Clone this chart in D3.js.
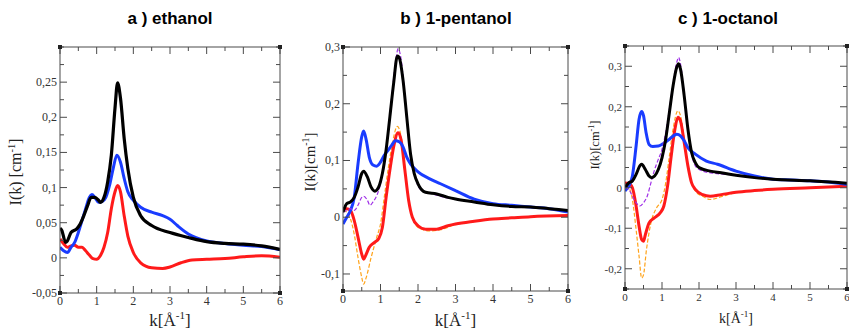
<!DOCTYPE html>
<html lang="en">
<head>
<meta charset="UTF-8" />
<script src="https://cdn.jsdelivr.net/npm/d3@7"></script>
<style>
  body { margin: 0; background: #fff; }
  svg { display: block; }
</style>
</head>
<body>
<script>
// ---- data: [k, I(k)] ----
var ethanolTotal = [[0,0.042],[0.05,0.039],[0.15,0.022],[0.2,0.024],[0.3,0.036],[0.45,0.041],[0.55,0.048],[0.65,0.06],[0.75,0.074],[0.85,0.086],[0.95,0.086],[1.05,0.082],[1.1,0.079],[1.2,0.086],[1.3,0.108],[1.4,0.146],[1.5,0.213],[1.57,0.249],[1.65,0.227],[1.75,0.17],[1.85,0.127],[2.0,0.086],[2.2,0.06],[2.5,0.046],[3.0,0.036],[3.5,0.029],[4.0,0.023],[4.5,0.0205],[5.0,0.0195],[5.5,0.017],[6.0,0.012]];
var ethanolBlue = [[0,0.015],[0.1,0.01],[0.2,0.0076],[0.3,0.015],[0.4,0.022],[0.5,0.036],[0.6,0.053],[0.7,0.07],[0.8,0.086],[0.87,0.09],[0.95,0.086],[1.05,0.079],[1.15,0.08],[1.25,0.086],[1.35,0.103],[1.45,0.127],[1.55,0.146],[1.65,0.136],[1.75,0.113],[1.85,0.094],[2.0,0.082],[2.2,0.072],[2.5,0.065],[2.8,0.06],[3.0,0.055],[3.2,0.046],[3.5,0.034],[4.0,0.024],[4.5,0.0205],[5.0,0.018],[5.5,0.016],[6.0,0.0115]];
var ethanolRed = [[0,0.027],[0.1,0.02],[0.2,0.015],[0.3,0.017],[0.4,0.018],[0.5,0.015],[0.6,0.015],[0.7,0.01],[0.8,0.004],[0.9,-0.001],[1.0,-0.002],[1.1,0.003],[1.2,0.015],[1.3,0.036],[1.4,0.07],[1.5,0.094],[1.57,0.103],[1.65,0.094],[1.75,0.06],[1.85,0.031],[2.0,0.0076],[2.2,-0.007],[2.5,-0.014],[2.8,-0.015],[3.0,-0.013],[3.3,-0.007],[3.6,-0.003],[4.0,-0.002],[4.5,-0.001],[5.0,0.0015],[5.5,0.003],[6.0,0.001]];

var pentanolTotal = [[0,0.009],[0.1,0.024],[0.2,0.027],[0.3,0.035],[0.4,0.053],[0.5,0.077],[0.55,0.081],[0.65,0.071],[0.75,0.053],[0.85,0.046],[0.95,0.053],[1.05,0.077],[1.15,0.119],[1.25,0.177],[1.35,0.236],[1.45,0.284],[1.5,0.281],[1.6,0.242],[1.7,0.177],[1.8,0.112],[1.9,0.077],[2.0,0.059],[2.2,0.044],[2.5,0.041],[2.8,0.035],[3.0,0.032],[3.5,0.027],[4.0,0.022],[4.5,0.019],[5.0,0.018],[5.5,0.015],[6.0,0.012]];
var pentanolPurple = [[0,0.009],[0.1,0.012],[0.2,0.015],[0.3,0.012],[0.4,0.021],[0.5,0.035],[0.55,0.037],[0.65,0.03],[0.72,0.021],[0.8,0.027],[0.9,0.038],[1.0,0.059],[1.1,0.095],[1.2,0.148],[1.3,0.213],[1.4,0.272],[1.47,0.297],[1.55,0.278],[1.65,0.213],[1.75,0.142],[1.85,0.095],[1.95,0.065],[2.1,0.047],[2.4,0.041],[2.7,0.035],[3.0,0.032],[3.5,0.027],[4.0,0.022],[4.5,0.019],[5.0,0.018],[5.5,0.015],[6.0,0.012]];
var pentanolBlue = [[0,-0.012],[0.1,0],[0.2,0.012],[0.3,0.035],[0.4,0.094],[0.5,0.142],[0.55,0.152],[0.62,0.136],[0.7,0.106],[0.8,0.092],[0.9,0.09],[1.0,0.097],[1.1,0.109],[1.2,0.118],[1.3,0.127],[1.4,0.135],[1.5,0.133],[1.6,0.124],[1.7,0.106],[1.8,0.094],[2.0,0.08],[2.3,0.068],[2.6,0.059],[3.0,0.047],[3.5,0.032],[4.0,0.024],[4.5,0.021],[5.0,0.018],[5.5,0.015],[6.0,0.009]];
var pentanolRed = [[0,0.015],[0.1,0.015],[0.2,0.012],[0.3,-0.006],[0.4,-0.035],[0.5,-0.065],[0.55,-0.074],[0.6,-0.068],[0.7,-0.053],[0.85,-0.044],[0.95,-0.038],[1.05,-0.018],[1.15,0.035],[1.25,0.083],[1.35,0.124],[1.47,0.149],[1.55,0.136],[1.65,0.083],[1.75,0.03],[1.85,0],[2.0,-0.015],[2.2,-0.021],[2.5,-0.021],[2.8,-0.015],[3.0,-0.012],[3.5,-0.007],[4.0,-0.003],[4.5,-0.001],[5.0,0.001],[6.0,0.003]];
var pentanolOrange = [[0,0.012],[0.1,0.009],[0.2,-0.003],[0.3,-0.03],[0.4,-0.071],[0.5,-0.106],[0.55,-0.118],[0.62,-0.106],[0.75,-0.071],[0.9,-0.035],[1.0,-0.012],[1.1,0.035],[1.2,0.083],[1.3,0.124],[1.45,0.16],[1.55,0.142],[1.65,0.083],[1.75,0.03],[1.85,0],[2.0,-0.018],[2.3,-0.024],[2.6,-0.022],[3.0,-0.013],[3.5,-0.007],[4.0,-0.003],[4.5,-0.001],[5.0,0.001],[6.0,0.003]];

var octanolTotal = [[0,0],[0.1,0.012],[0.2,0.017],[0.3,0.033],[0.4,0.054],[0.45,0.058],[0.55,0.045],[0.65,0.029],[0.72,0.025],[0.8,0.029],[0.9,0.045],[1.0,0.074],[1.1,0.12],[1.2,0.186],[1.3,0.252],[1.4,0.298],[1.45,0.306],[1.5,0.293],[1.6,0.227],[1.7,0.145],[1.8,0.087],[1.9,0.062],[2.0,0.05],[2.3,0.041],[2.6,0.037],[3.0,0.031],[3.5,0.025],[4.0,0.021],[5.0,0.017],[6.0,0.011]];
var octanolPurple = [[0,0],[0.1,-0.004],[0.2,-0.021],[0.3,-0.037],[0.4,-0.045],[0.5,-0.037],[0.6,-0.021],[0.7,0.012],[0.8,0.045],[0.9,0.07],[1.0,0.095],[1.1,0.136],[1.2,0.194],[1.3,0.26],[1.4,0.31],[1.45,0.322],[1.5,0.306],[1.6,0.231],[1.7,0.145],[1.8,0.083],[1.9,0.054],[2.1,0.041],[2.4,0.036],[3.0,0.031],[3.5,0.025],[4.0,0.021],[5.0,0.017],[6.0,0.011]];
var octanolBlue = [[0,-0.008],[0.1,0.004],[0.2,0.029],[0.3,0.103],[0.38,0.169],[0.45,0.188],[0.5,0.178],[0.57,0.136],[0.65,0.107],[0.75,0.102],[0.9,0.103],[1.0,0.107],[1.2,0.12],[1.4,0.132],[1.5,0.128],[1.6,0.116],[1.7,0.099],[1.9,0.083],[2.2,0.066],[2.5,0.058],[3.0,0.041],[3.5,0.029],[4.0,0.021],[4.5,0.019],[5.0,0.017],[5.5,0.014],[6.0,0.008]];
var octanolRed = [[0,0.012],[0.1,0.011],[0.2,0],[0.3,-0.045],[0.38,-0.095],[0.45,-0.128],[0.5,-0.132],[0.55,-0.116],[0.65,-0.087],[0.8,-0.074],[0.95,-0.062],[1.05,-0.045],[1.15,0.004],[1.25,0.079],[1.35,0.145],[1.43,0.174],[1.5,0.165],[1.6,0.112],[1.7,0.054],[1.8,0.012],[1.9,-0.004],[2.1,-0.017],[2.3,-0.021],[2.6,-0.017],[3.0,-0.011],[3.5,-0.007],[4.0,-0.004],[5.0,0],[6.0,0.004]];
var octanolOrange = [[0,0.004],[0.1,0],[0.2,-0.029],[0.3,-0.103],[0.38,-0.169],[0.45,-0.223],[0.5,-0.215],[0.58,-0.153],[0.7,-0.087],[0.85,-0.05],[1.0,-0.029],[1.1,0.012],[1.2,0.079],[1.3,0.145],[1.43,0.19],[1.5,0.178],[1.6,0.12],[1.7,0.054],[1.8,0.012],[1.9,-0.008],[2.1,-0.021],[2.3,-0.029],[2.6,-0.022],[3.0,-0.012],[3.5,-0.007],[4.0,-0.004],[5.0,0],[6.0,0.004]];

var kTicks = [0, 1, 2, 3, 4, 5, 6];
var ticksA = [-0.05, 0, 0.05, 0.1, 0.15, 0.2, 0.25];
var ticksB = [-0.1, 0, 0.1, 0.2, 0.3];
var ticksC = [-0.2, -0.1, 0, 0.1, 0.2, 0.3];

var titles = ["a ) ethanol", "b ) 1-pentanol", "c ) 1-octanol"];

var w = 849, h = 332;
var svg = d3.select("body").append("svg").attr("width", w).attr("height", h);

var fmt = d3.formatLocale({decimal: ",", thousands: ".", grouping: [3], currency: ["", ""], minus: "-"}).format("~g");

var BLACK = "#000", BLUE = "#1a3cff", RED = "#ff1a1a", ORANGE = "#ffa31a", PURPLE = "#a030e8";

var panels = [
  {title: titles[0], left: 60, right: 280, top: 47, bottom: 293, yDomain: [-0.05, 0.3], yTicks: ticksA, minorStep: 0.025,
   ylab: {x: 21, y: 172, size: 16, text: "I(k) [cm"}, xlab: {y: 326, size: 17}, titleX: 170, tickSize: 12,
   series: [[ethanolRed, RED, 3, null], [ethanolBlue, BLUE, 3, null], [ethanolTotal, BLACK, 3.2, null]]},
  {title: titles[1], left: 343, right: 568, top: 47, bottom: 291, yDomain: [-0.13, 0.3], yTicks: ticksB, minorStep: 0.05,
   ylab: {x: 315, y: 162, size: 15, text: "I(k)[cm"}, xlab: {y: 326, size: 17}, titleX: 456, tickSize: 12,
   series: [[pentanolOrange, ORANGE, 1.2, "4,2"], [pentanolRed, RED, 3, null], [pentanolBlue, BLUE, 3, null],
            [pentanolPurple, PURPLE, 1.2, "4,2"], [pentanolTotal, BLACK, 3, null]]},
  {title: titles[2], left: 625, right: 847, top: 46, bottom: 289, yDomain: [-0.25, 0.35], yTicks: ticksC, minorStep: 0.05,
   ylab: {x: 599, y: 145, size: 12.5, text: "I(k)[cm"}, xlab: {y: 323, size: 14}, titleX: 728, tickSize: 11,
   series: [[octanolOrange, ORANGE, 1.2, "4,2"], [octanolRed, RED, 3, null], [octanolBlue, BLUE, 3, null],
            [octanolPurple, PURPLE, 1.2, "4,2"], [octanolTotal, BLACK, 3, null]]}
];

panels.forEach(function (p) {
  var x = d3.scaleLinear().domain([0, 6]).range([p.left, p.right]);
  var y = d3.scaleLinear().domain(p.yDomain).range([p.bottom, p.top]);
  var g = svg.append("g");

  // title
  svg.append("text")
    .attr("x", p.titleX).attr("y", 24)
    .attr("text-anchor", "middle")
    .attr("font-family", "Liberation Sans, Arial, sans-serif")
    .attr("font-weight", "bold").attr("font-size", "17px")
    .text(p.title);

  // clip for curves
  var clipId = "clip" + p.left;
  svg.append("clipPath").attr("id", clipId).append("rect")
    .attr("x", p.left).attr("y", p.top).attr("width", p.right - p.left).attr("height", p.bottom - p.top);

  var line = d3.line()
    .x(function (d) { return x(d[0]); })
    .y(function (d) { return y(d[1]); })
    .curve(d3.curveMonotoneX);

  g.append("g").attr("clip-path", "url(#" + clipId + ")")
    .selectAll("path")
    .data(p.series)
    .enter()
    .append("path")
    .attr("d", function (s) { return line(s[0]); })
    .attr("fill", "none")
    .attr("stroke", function (s) { return s[1]; })
    .attr("stroke-width", function (s) { return s[2]; })
    .attr("stroke-dasharray", function (s) { return s[3]; })
    .attr("stroke-linejoin", "round");

  // frame
  var axisColor = "#4a4a4a";
  g.append("rect")
    .attr("x", p.left).attr("y", p.top)
    .attr("width", p.right - p.left).attr("height", p.bottom - p.top)
    .attr("fill", "none").attr("stroke", axisColor).attr("stroke-width", 1);

  // ticks, inward on all four sides
  var xMinor = d3.range(0, 6.001, 0.5);
  var yMinor = d3.range(Math.ceil(p.yDomain[0] / p.minorStep - 1e-6) * p.minorStep, p.yDomain[1] + 1e-6, p.minorStep);
  var tk = g.append("g").attr("stroke", axisColor).attr("stroke-width", 1);
  xMinor.forEach(function (v) {
    var major = Math.abs(v - Math.round(v)) < 1e-6;
    var len = major ? 7 : 4;
    tk.append("line").attr("x1", x(v)).attr("x2", x(v)).attr("y1", p.bottom).attr("y2", p.bottom - len);
    tk.append("line").attr("x1", x(v)).attr("x2", x(v)).attr("y1", p.top).attr("y2", p.top + len);
  });
  yMinor.forEach(function (v) {
    var major = p.yTicks.some(function (t) { return Math.abs(t - v) < 1e-6; });
    var len = major ? 7 : 4;
    tk.append("line").attr("y1", y(v)).attr("y2", y(v)).attr("x1", p.left).attr("x2", p.left + len);
    tk.append("line").attr("y1", y(v)).attr("y2", y(v)).attr("x1", p.right).attr("x2", p.right - len);
  });

  // corner squares
  [[p.left, p.top], [p.right, p.top], [p.left, p.bottom], [p.right, p.bottom]].forEach(function (c) {
    g.append("rect").attr("x", c[0] - 2).attr("y", c[1] - 2).attr("width", 4).attr("height", 4)
      .attr("fill", "#222");
  });

  // tick labels
  var serif = "Liberation Serif, Times New Roman, serif";
  g.selectAll(".xl").data(kTicks).enter().append("text")
    .attr("x", function (d) { return x(d); })
    .attr("y", p.bottom + 12)
    .attr("text-anchor", "middle")
    .attr("font-family", serif).attr("font-size", p.tickSize + "px").attr("fill", "#333")
    .text(function (d) { return d; });
  g.selectAll(".yl").data(p.yTicks).enter().append("text")
    .attr("x", p.left - 3)
    .attr("y", function (d) { return y(d) + 4; })
    .attr("text-anchor", "end")
    .attr("font-family", serif).attr("font-size", p.tickSize + "px").attr("fill", "#333")
    .text(function (d) { return fmt(d); });

  // axis titles
  var yl = svg.append("text")
    .attr("transform", "translate(" + p.ylab.x + "," + p.ylab.y + ") rotate(-90)")
    .attr("text-anchor", "middle")
    .attr("font-family", serif).attr("font-size", p.ylab.size + "px").attr("fill", "#222");
  yl.append("tspan").text(p.ylab.text);
  yl.append("tspan").attr("dy", -p.ylab.size * 0.4).attr("font-size", (p.ylab.size * 0.65) + "px").text("-1");
  yl.append("tspan").attr("dy", p.ylab.size * 0.4).text("]");

  var xl = svg.append("text")
    .attr("x", (p.left + p.right) / 2).attr("y", p.xlab.y)
    .attr("text-anchor", "middle")
    .attr("font-family", serif).attr("font-size", p.xlab.size + "px").attr("fill", "#222");
  xl.append("tspan").text("k[Å");
  xl.append("tspan").attr("dy", -p.xlab.size * 0.4).attr("font-size", (p.xlab.size * 0.65) + "px").text("-1");
  xl.append("tspan").attr("dy", p.xlab.size * 0.4).text("]");
});
</script>
</body>
</html>
